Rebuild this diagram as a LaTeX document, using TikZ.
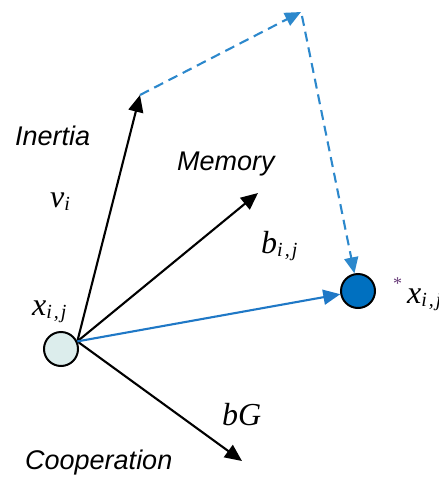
\documentclass[tikz,border=0pt]{standalone}
\usepackage{fontspec}
\setmainfont{Liberation Serif}
\newfontfamily\wordfont{Liberation Sans}
\newfontfamily\mathfnt{Liberation Serif}
\usetikzlibrary{arrows.meta}
\definecolor{lightfill}{HTML}{DCEDEC}
\definecolor{darkblue}{HTML}{0070C0}
\definecolor{arrowblue}{HTML}{1F78C6}
\definecolor{dashblue}{HTML}{2C88CC}
\definecolor{starcol}{HTML}{6A3D7A}
\newcommand\mlab[2]{{\fontsize{32}{32}\selectfont\mathfnt\itshape #1}\raisebox{-0.3em}{\fontsize{20}{20}\selectfont\mathfnt\itshape #2}}
\newcommand\wlab[1]{{\fontsize{27}{27}\selectfont\wordfont\itshape #1}}
\tikzset{
  partnode/.style={circle, draw=black, line width=2pt, minimum size=34pt, inner sep=0pt},
  vecarrow/.style={line width=2.1pt, -{Triangle[length=17pt,width=15pt]}},
  dasharrow/.style={line width=2.1pt, dashblue, dash pattern=on 10pt off 6pt, -{Triangle[length=16pt,width=14pt]}},
  lab/.style={inner sep=0pt, anchor=base west}
}
\begin{document}
\begin{tikzpicture}[x=1pt,y=-1pt]
\useasboundingbox (0,0) rectangle (439,477);
% particles
\node[partnode, fill=lightfill] (a) at (61,349) {};
\node[partnode, fill=darkblue] (b) at (358,291) {};
% tips
\coordinate (o) at (a.25);
\coordinate (p) at (140,95);
\coordinate (m) at (258,193);
\coordinate (g) at (242,461);
\coordinate (q) at (301,12);
\coordinate (q2) at (302,16);
% vectors
\draw[vecarrow] (o) -- (p);
\draw[vecarrow] (o) -- (m);
\draw[vecarrow] (o) -- (g);
\draw[vecarrow, arrowblue] (o) -- (b);
\draw[dasharrow] (p) -- (q);
\draw[dasharrow] (q2) -- (b);
% labels
\node[lab] (tin) at (15,145) {\wlab{Inertia}};
\node[lab] (tmem) at (177,170) {\wlab{Memory}};
\node[lab] (tcoop) at (25,469) {\wlab{Cooperation}};
\node[lab] (lv) at (50,207) {\mlab{v}{i}};
\node[lab] (lb) at (261,253) {\mlab{b}{i\kern2pt,\kern2pt j}};
\node[lab] (lx) at (32,315) {\mlab{x}{i\kern2pt,\kern2pt j}};
\node[lab] (lg) at (222,425) {{\fontsize{32}{32}\selectfont\mathfnt\itshape bG}};
\node[lab] (lstar) at (393,289) {{\fontsize{18}{18}\selectfont\color{starcol}*}};
\node[lab] (lxs) at (407,303) {\mlab{x}{i\kern2pt,\kern2pt j}};
\end{tikzpicture}
\end{document}
